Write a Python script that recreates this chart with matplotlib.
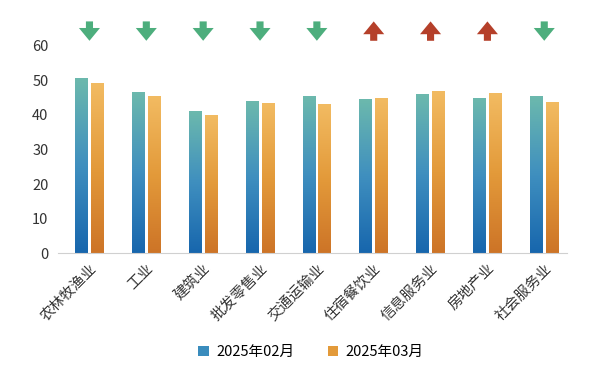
import numpy as np
import matplotlib
matplotlib.use("Agg")
import matplotlib.pyplot as plt
from matplotlib.patches import Patch
from matplotlib.colors import LinearSegmentedColormap

plt.rcParams['font.family'] = ['Noto Sans CJK SC', 'DejaVu Sans']

# ------------------------------------------------------------------
# data
# ------------------------------------------------------------------
categories = ["农林牧渔业", "工业", "建筑业", "批发零售业", "交通运输业",
              "住宿餐饮业", "信息服务业", "房地产业", "社会服务业"]
feb_values = [50.3, 46.5, 41.0, 43.8, 45.1, 44.4, 45.8, 44.6, 45.1]
mar_values = [49.1, 45.2, 39.8, 43.1, 42.9, 44.8, 46.6, 46.0, 43.4]
series_names = ["2025年02月", "2025年03月"]

# ------------------------------------------------------------------
# style
# ------------------------------------------------------------------
BAR_W = 0.225
GAP = 0.055
blue_cmap = LinearSegmentedColormap.from_list("b", ["#1766ad", "#3f8fbf", "#6cb9ad"])
orange_cmap = LinearSegmentedColormap.from_list("o", ["#cd7427", "#e39a3a", "#f2bb62"])
DOWN_COLOR = "#4dae7d"
UP_COLOR = "#b5402a"

fig = plt.figure(figsize=(6.0, 3.74), dpi=100)
ax = fig.add_axes([0.097, 0.323, 0.848, 0.555])

grad = np.linspace(0, 1, 256).reshape(-1, 1)


def gradient_bar(x_center, height, cmap):
    x0 = x_center - BAR_W / 2
    x1 = x_center + BAR_W / 2
    ax.imshow(grad, extent=[x0, x1, 0, height], origin="lower",
              cmap=cmap, aspect="auto", zorder=2)


x = np.arange(len(categories))
for i in x:
    gradient_bar(i - (BAR_W + GAP) / 2, feb_values[i], blue_cmap)
    gradient_bar(i + (BAR_W + GAP) / 2, mar_values[i], orange_cmap)

# arrows on top: down if March below February
for i in x:
    if mar_values[i] < feb_values[i]:
        ax.arrow(i, 67.0, 0, -5.6, width=0.125, head_width=0.37,
                 head_length=3.7, length_includes_head=True,
                 color=DOWN_COLOR, clip_on=False, lw=0)
    else:
        ax.arrow(i, 61.4, 0, 5.6, width=0.125, head_width=0.37,
                 head_length=3.7, length_includes_head=True,
                 color=UP_COLOR, clip_on=False, lw=0)

ax.set_xlim(-0.55, len(categories) - 0.6)
ax.set_ylim(0, 60)
ax.set_yticks(range(0, 61, 10))
ax.set_xticks(x)
ax.set_xticklabels(categories, rotation=45, ha="right", rotation_mode="anchor")
ax.tick_params(axis="both", length=0, labelsize=10.5, colors="#333333")
ax.tick_params(axis="x", pad=6)
ax.tick_params(axis="y", pad=7)

for s in ["top", "right", "left"]:
    ax.spines[s].set_visible(False)
ax.spines["bottom"].set_color("#d0d0d0")

handles = [Patch(facecolor="#3a8cbd", label=series_names[0]),
           Patch(facecolor="#e39a3a", label=series_names[1])]
fig.legend(handles=handles, loc="center", bbox_to_anchor=(0.518, 0.058),
           ncol=2, frameon=False, fontsize=10.5, handlelength=0.7,
           handleheight=0.7, handletextpad=0.5, columnspacing=2.3)

fig.savefig("out.png", dpi=100)
